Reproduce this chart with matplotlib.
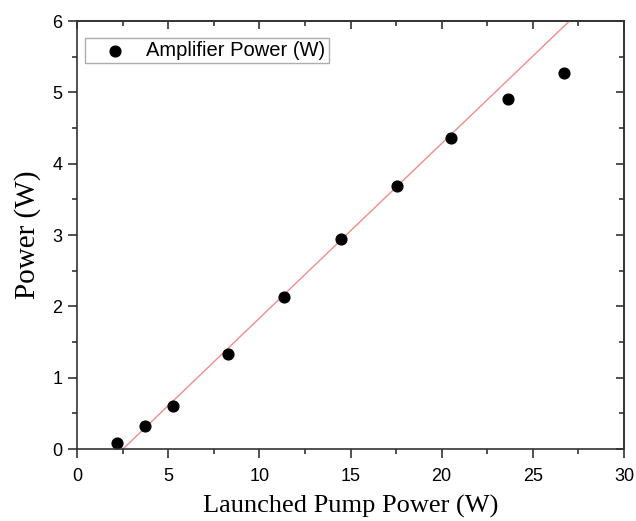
import numpy as np
from matplotlib import pyplot as plt
from matplotlib.ticker import MultipleLocator

# Measured data
pump = [2.2, 3.73, 5.27, 8.28, 11.35, 14.48, 17.55, 20.5, 23.64, 26.7]
amp = [0.08, 0.32, 0.60, 1.33, 2.13, 2.94, 3.69, 4.36, 4.91, 5.27]

# Linear fit (slope efficiency, threshold)
slope = 0.245
threshold = 2.52

fig = plt.figure(figsize=(6.36, 5.21), dpi=100)
ax = fig.add_axes([77 / 636, 1 - 449 / 521, 547 / 636, 428 / 521])

xfit = np.array([threshold, 30])
ax.plot(xfit, slope * (xfit - threshold), color='#f28c8c', lw=1, zorder=1)
ax.scatter(pump, amp, s=60, c='black', zorder=2, label='Amplifier Power (W)')

ax.set_xlim(0, 30)
ax.set_ylim(0, 6)
ax.xaxis.set_major_locator(MultipleLocator(5))
ax.xaxis.set_minor_locator(MultipleLocator(2.5))
ax.yaxis.set_major_locator(MultipleLocator(1))
ax.yaxis.set_minor_locator(MultipleLocator(0.5))
ax.tick_params(which='both', direction='out', width=1.2, color='#333333')
ax.tick_params(which='major', length=6.5, labelsize=13)
ax.tick_params(which='minor', length=3.5)
ax.tick_params(axis='x', pad=7)
ax.tick_params(axis='y', pad=4)
for lab in ax.get_xticklabels() + ax.get_yticklabels():
	lab.set_family('Liberation Sans')
for sp in ax.spines.values():
	sp.set_linewidth(1.2)
	sp.set_color('#333333')

# Mirrored ticks pointing inward on top and right
top = ax.secondary_xaxis('top')
right = ax.secondary_yaxis('right')
top.xaxis.set_major_locator(MultipleLocator(5))
top.xaxis.set_minor_locator(MultipleLocator(2.5))
right.yaxis.set_major_locator(MultipleLocator(1))
right.yaxis.set_minor_locator(MultipleLocator(0.5))
for sec in (top, right):
	sec.tick_params(which='both', direction='in', width=1.2, color='#333333',
		labeltop=False, labelright=False, labelbottom=False, labelleft=False)
	sec.tick_params(which='major', length=6)
	sec.tick_params(which='minor', length=3.5)
	for sp in sec.spines.values():
		sp.set_linewidth(1.2)
		sp.set_color('#333333')

ax.set_xlabel('Launched Pump Power (W)', family='Liberation Serif', fontsize=19, labelpad=7)
ax.set_ylabel('Power (W)', family='Liberation Serif', fontsize=21, labelpad=8)

leg = ax.legend(loc='upper left', bbox_to_anchor=(8 / 547, 1 - 17 / 428),
	borderaxespad=0, fancybox=False, edgecolor='#999999',
	prop={'family': 'Liberation Sans', 'size': 14.5}, borderpad=0.15,
	handlelength=2.7, handletextpad=0.2)
leg.get_frame().set_linewidth(1)

fig.savefig('out.png', dpi=100)
